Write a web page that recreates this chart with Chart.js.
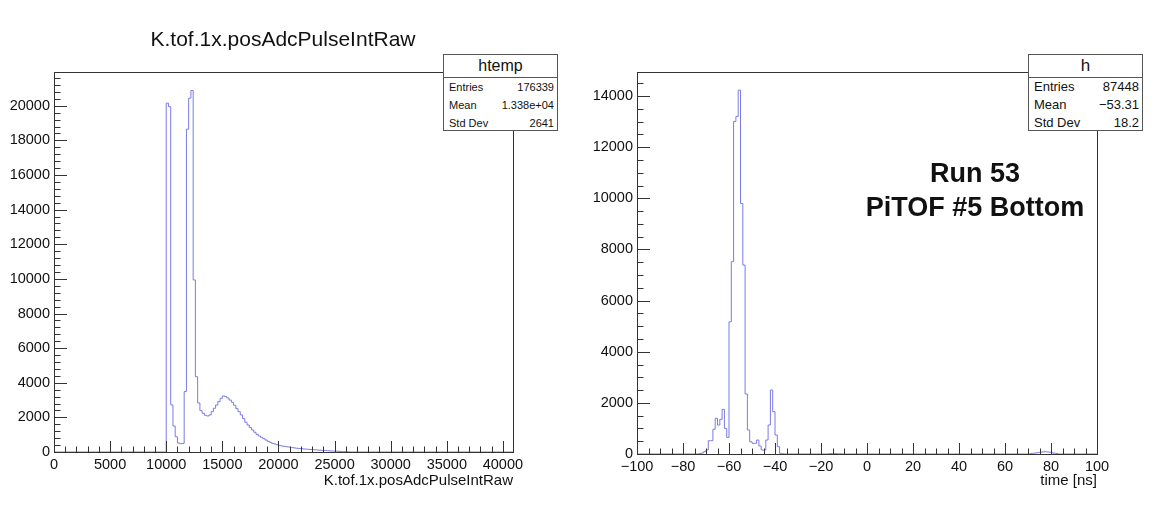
<!DOCTYPE html>
<html>
<head>
<meta charset="utf-8">
<script src="https://cdn.jsdelivr.net/npm/chart.js@4.4.1/dist/chart.umd.min.js"></script>
<style>
body{margin:0;background:#fff;width:1167px;height:524px;position:relative;overflow:hidden;
  font-family:"Liberation Sans",Arial,Helvetica,sans-serif;color:#111}
canvas{position:absolute;top:0}
.ttl{position:absolute;font-size:21px;white-space:nowrap;transform:translateX(-50%)}
.stats{position:absolute;top:54px;width:115px;height:77px;border:1px solid #555;background:#fff;box-sizing:border-box}
.stats .hd{height:22px;line-height:22px;text-align:center;border-bottom:1px solid #555}
.stats .row{display:flex;justify-content:space-between;padding:0 3px 0 5px;height:18px;line-height:18px}
.run{position:absolute;left:975px;transform:translateX(-50%);font-weight:bold;font-size:27px;white-space:nowrap;text-align:center;line-height:34px;top:156px}
</style>
</head>
<body>
<canvas id="left" width="583" height="524" style="left:0;width:583px;height:524px"></canvas>
<canvas id="right" width="584" height="524" style="left:583px;width:584px;height:524px"></canvas>

<div class="ttl" style="left:283px;top:27px">K.tof.1x.posAdcPulseIntRaw</div>

<div class="stats" style="left:443px;font-size:11px">
  <div class="hd" style="font-size:16px">htemp</div>
  <div class="row"><span>Entries</span><span>176339</span></div>
  <div class="row"><span>Mean</span><span>1.338e+04</span></div>
  <div class="row"><span>Std Dev</span><span>2641</span></div>
</div>
<div class="stats" style="left:1028px;font-size:13px">
  <div class="hd" style="font-size:17px">h</div>
  <div class="row"><span>Entries</span><span>87448</span></div>
  <div class="row"><span>Mean</span><span>&minus;53.31</span></div>
  <div class="row"><span>Std Dev</span><span>18.2</span></div>
</div>
<div class="run">Run 53<br>PiTOF #5 Bottom</div>

<script>
// left histogram: 200-wide bins, first listed bin starts at 10000
const leftStart = 10000;
const leftBinW = 200;
const leftCounts = [20150, 19950, 2720, 1500, 880, 520, 480, 500, 3490, 18650,
  20440, 20880, 9940, 4350, 2830, 2390, 2235, 2120, 2080, 2140,
  2330, 2525, 2715, 2910, 3100, 3237, 3200, 3120, 3000, 2870,
  2700, 2505, 2330, 2140, 1930, 1715, 1560, 1410, 1270, 1140,
  1020, 925, 850, 770, 690, 615, 560, 500, 460, 425,
  385, 350, 330, 310, 290, 270, 250, 230, 215, 200,
  190, 175, 165, 155, 145, 135, 125, 115, 105, 95,
  90, 80, 70, 60, 55, 50, 40, 35, 25, 20, 15, 10];
const leftXTicks = [0, 5000, 10000, 15000, 20000, 25000, 30000, 35000, 40000];
const leftYTicks = [0, 2000, 4000, 6000, 8000, 10000, 12000, 14000, 16000, 18000, 20000];

// right histogram: 1 ns bins, three groups of non-empty bins
const rightMainStart = -73;
const rightMain = [20, 40, 90, 160, 520, 520, 965, 1395, 1134, 1355,
  1746, 1000, 650, 5170, 7520, 13000, 13200, 14230, 9800, 7390,
  2346, 940, 480, 418, 418, 547, 313, 156, 156, 547,
  1134, 2500, 1655, 743, 286, 26, 10];
const rightMidStart = -17;
const rightMid = [10, 20, 20, 15, 10, 10];
const rightTailStart = 71;
const rightTail = [20, 30, 40, 60, 70, 80, 90, 80, 70, 50, 30, 20];
const rightXTicks = [-100, -80, -60, -40, -20, 0, 20, 40, 60, 80, 100];
const rightYTicks = [0, 2000, 4000, 6000, 8000, 10000, 12000, 14000];

const histColor = '#7b7be6';
const fontFam = '"Liberation Sans", Arial, Helvetica, sans-serif';

// turn bin groups into stepped outline points (left edge + count of each bin)
function stepPoints(groups, binW, xmin, xmax){
  let pts = [{x: xmin, y: 0}];
  for (const g of groups) {
    for (let i = 0; i < g.counts.length; i++) {
      pts.push({x: g.start + i * binW, y: g.counts[i]});
    }
    pts.push({x: g.start + g.counts.length * binW, y: 0});
  }
  pts.push({x: xmax, y: 0});
  return pts;
}

// ROOT style frame with inward ticks
const rootFrame = {
  id: 'rootFrame',
  afterDatasetsDraw(chart, args, o){
    const ctx = chart.ctx;
    const a = chart.chartArea;
    const xs = chart.scales.x, ys = chart.scales.y;
    ctx.save();
    ctx.strokeStyle = '#333';
    ctx.lineWidth = 1;
    ctx.beginPath();
    // x ticks
    for (let i = 0; ; i++) {
      const v = o.xFrom + i * o.xMinor;
      if (v > xs.max + 1e-9) break;
      const px = Math.round(xs.getPixelForValue(v)) + 0.5;
      const len = (i % o.xSub === 0) ? 11 : 5.5;
      ctx.moveTo(px, a.bottom);
      ctx.lineTo(px, a.bottom - len);
    }
    // y ticks
    for (let i = 0; ; i++) {
      const v = i * o.yMinor;
      if (v > ys.max + 1e-9) break;
      const py = Math.round(ys.getPixelForValue(v)) + 0.5;
      const len = (i % o.ySub === 0) ? 13 : 6.5;
      ctx.moveTo(a.left, py);
      ctx.lineTo(a.left + len, py);
    }
    ctx.stroke();
    ctx.strokeRect(Math.round(a.left) + 0.5, Math.round(a.top) + 0.5,
      Math.round(a.right - a.left), Math.round(a.bottom - a.top));
    ctx.restore();
  }
};

function makeHist(id, pts, xr, yr, xTicks, yTicks, xTitle, xFmt, frameOpts, xH){
  return new Chart(document.getElementById(id), {
    type: 'line',
    data: {datasets: [{
      data: pts,
      stepped: 'before',
      borderColor: histColor,
      borderWidth: 1,
      pointRadius: 0,
      fill: false,
      tension: 0
    }]},
    options: {
      responsive: false,
      animation: false,
      layout: {padding: {top: 72, right: 70, left: 0, bottom: 0}},
      plugins: {legend: {display: false}, tooltip: {enabled: false}, rootFrame: frameOpts},
      scales: {
        x: {
          type: 'linear', min: xr[0], max: xr[1],
          grid: {display: false, drawTicks: false},
          border: {display: false},
          afterBuildTicks: s => { s.ticks = xTicks.map(v => ({value: v})); },
          afterFit: s => { s.height = xH; },
          ticks: {autoSkip: false, maxRotation: 0, padding: 4, color: '#111',
            font: {family: fontFam, size: 14.5}, callback: xFmt},
          title: {display: true, text: xTitle, align: 'end', color: '#111',
            font: {family: fontFam, size: 15}, padding: {top: 0, bottom: 34}}
        },
        y: {
          min: yr[0], max: yr[1],
          grid: {display: false, drawTicks: false},
          border: {display: false},
          afterBuildTicks: s => { s.ticks = yTicks.map(v => ({value: v})); },
          afterFit: s => { s.width = 54; },
          ticks: {autoSkip: false, padding: 4, color: '#111',
            font: {family: fontFam, size: 14.5}, callback: v => String(v)}
        }
      }
    },
    plugins: [rootFrame]
  });
}

const leftPts = stepPoints([{start: leftStart, counts: leftCounts}], leftBinW, 0, 40900);
makeHist('left', leftPts, [0, 40900], [0, 21950], leftXTicks, leftYTicks,
  'K.tof.1x.posAdcPulseIntRaw', v => String(v),
  {xFrom: 0, xMinor: 1000, xSub: 5, yMinor: 400, ySub: 5}, 72);

const rightPts = stepPoints([
  {start: rightMainStart, counts: rightMain},
  {start: rightMidStart, counts: rightMid},
  {start: rightTailStart, counts: rightTail}], 1, -100, 100);
makeHist('right', rightPts, [-100, 100], [0, 14940], rightXTicks, rightYTicks,
  'time [ns]', v => v < 0 ? '\u2212' + Math.abs(v) : String(v),
  {xFrom: -100, xMinor: 5, xSub: 4, yMinor: 500, ySub: 4}, 70);
</script>
</body>
</html>
